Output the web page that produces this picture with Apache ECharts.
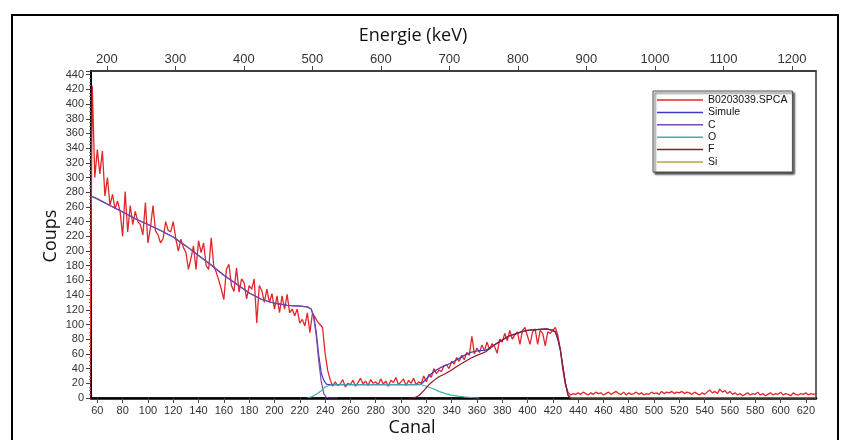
<!DOCTYPE html>
<html>
<head>
<meta charset="utf-8">
<script src="https://cdn.jsdelivr.net/npm/echarts@6/dist/echarts.min.js"></script>
<style>
html,body{margin:0;padding:0;background:#fff;}
#c{width:841px;height:440px;}
</style>
</head>
<body>
<div id="c"></div>
<script>
// ---- Data ----
const seriesNames = ['B0203039.SPCA', 'Simule', 'C', 'O', 'F', 'Si'];
const canalTicks = [60,80,100,120,140,160,180,200,220,240,260,280,300,320,340,360,380,400,420,440,460,480,500,520,540,560,580,600,620];
const energieTicks = [200,300,400,500,600,700,800,900,1000,1100,1200];

// measured spectrum: channels 54, 56, 58 ... 628
const mesureCanalStart = 54;
const mesureCanalStep = 2;
const mesureCoups = [
  0,425,300,338,305,336,275,300,262,277,
  257,268,254,220,281,226,262,236,254,240,
  236,222,266,211,232,262,227,222,211,217,
  240,228,226,240,217,200,216,205,198,175,
  190,207,175,214,198,211,180,175,218,180,
  171,160,148,134,175,182,153,145,177,144,
  162,157,135,153,148,162,102,153,146,130,
  148,130,142,121,139,116,139,121,141,116,
  121,112,121,102,107,98,116,89,115,110,
  104,100,96,61,38,25,16,22,17,19,
  25,15,20,18,24,16,21,27,19,23,
  17,25,20,22,18,26,19,23,16,24,
  21,28,18,22,26,17,24,20,27,18,
  22,20,30,22,32,28,40,33,38,36,
  44,45,40,50,46,55,50,58,52,62,
  58,84,60,68,62,72,64,76,66,74,
  70,61,80,76,88,78,92,80,86,90,
  73,92,96,84,73,90,94,73,92,88,
  71,90,88,92,96,85,65,38,18,8,
  4,6,5,7,5,8,6,4,7,5,
  8,6,7,4,6,8,5,7,9,6,
  5,8,4,7,5,6,8,5,7,4,
  6,5,8,6,7,5,9,6,8,7,
  9,6,8,7,9,6,8,7,5,8,
  6,4,7,5,8,11,7,9,6,12,
  8,10,6,9,5,7,4,6,3,5,
  7,4,6,5,8,4,6,3,5,7,
  4,6,5,8,4,6,5,3,7,5,
  4,6,5,7,4,6,5,6
];

// simulated curves [canal, coups]
const simule = [[55,275],[60,271],[70,262],[80,253],[90,244],[100,236],[110,228],[120,219],[130,207],[140,194],[150,181],[160,167],[170,155],[180,143],[190,134],[200,129],[210,126],[220,125],[226,124],[229,121],[231,112],[233,90],[235,58],[237,34],[239,24],[241,19],[244,18],[312,18],[316,19],[320,26],[324,33],[328,38],[332,42],[336,45],[340,48],[345,53],[350,58],[355,62],[360,64],[367,65],[372,70],[378,77],[385,84],[390,87],[395,90],[400,92],[407,93],[415,94],[420,92],[422,90],[424,80],[426,65],[428,42],[430,20],[432,4],[434,0],[628,0]];
const courbeC = [[55,275],[60,271],[70,262],[80,253],[90,244],[100,236],[110,228],[120,219],[130,207],[140,194],[150,181],[160,167],[170,155],[180,143],[190,134],[200,129],[210,126],[220,125],[226,124],[229,121],[231,110],[233,85],[235,50],[237,22],[239,6],[241,1],[243,0],[250,0]];
const courbeO = [[226,0],[230,2],[234,6],[237,10],[240,15],[243,17],[248,18],[316,18],[320,16],[325,13],[330,9],[335,6],[340,4],[345,2.5],[350,1.5],[356,0.5],[362,0]];
const courbeF = [[306,0],[310,0],[314,3],[318,10],[322,18],[326,24],[330,29],[335,33],[340,38],[345,44],[350,49],[355,54],[360,58],[367,63],[372,70],[378,77],[385,84],[390,87],[395,90],[400,92],[407,93],[415,94],[420,92],[422,90],[424,80],[426,65],[428,42],[430,20],[432,4],[434,0],[440,0]];
const courbeSi = [[434,0],[628,0]];

// ---- Build ----
const mesure = mesureCoups.map((v, i) => [mesureCanalStart + i * mesureCanalStep, v]);
const colors = ['#e3262b', '#3c3cc4', '#7d4aa6', '#3fb0ac', '#8a1c2c', '#b8a640'];
const datasets = [mesure, simule, courbeC, courbeO, courbeF, courbeSi];

const chart = echarts.init(document.getElementById('c'), null, {renderer: 'canvas'});
const labelFont = '"Liberation Sans", Arial, sans-serif';
const titleFont = '"Open Sans", "DejaVu Sans", sans-serif';
const plain = v => String(v);

chart.setOption({
  animation: false,
  backgroundColor: '#fff',
  grid: {left: 91, right: 25, top: 71, bottom: 42, show: true, borderColor: '#333', borderWidth: 1.5, backgroundColor: '#fff'},
  legend: {
    data: seriesNames,
    orient: 'vertical',
    left: 653, top: 91,
    icon: 'rect',
    itemWidth: 46, itemHeight: 1.5,
    itemGap: 0.4,
    itemStyle: {borderWidth: 0},
    padding: [3, 5, 4, 4],
    backgroundColor: '#fff',
    borderColor: '#555', borderWidth: 1,
    shadowColor: 'rgba(0,0,0,0.75)', shadowBlur: 2, shadowOffsetX: 2, shadowOffsetY: 2,
    textStyle: {fontFamily: labelFont, fontSize: 10.5, color: '#111', lineHeight: 12},
    selectedMode: false
  },
  xAxis: [
    {
      type: 'value', position: 'bottom', min: 55, max: 628,
      axisLine: {show: true, onZero: false, lineStyle: {color: '#000', width: 2.5}},
      axisTick: {show: true, customValues: canalTicks, length: 5, lineStyle: {color: '#444'}},
      axisLabel: {customValues: canalTicks, formatter: plain, fontFamily: labelFont, fontSize: 11, color: '#333', margin: 7},
      splitLine: {show: false}
    },
    {
      type: 'value', position: 'top', min: 177, max: 1235,
      axisLine: {show: true, onZero: false, lineStyle: {color: '#333', width: 1.5}},
      axisTick: {show: true, customValues: energieTicks, length: 5, lineStyle: {color: '#444'}},
      axisLabel: {customValues: energieTicks, formatter: plain, fontFamily: labelFont, fontSize: 13, color: '#333', margin: 5},
      splitLine: {show: false}
    }
  ],
  yAxis: {
    type: 'value', min: 0, max: 445, interval: 20,
    axisLine: {show: true, onZero: false, lineStyle: {color: '#000', width: 2}},
    axisTick: {show: true, length: 5, lineStyle: {color: '#444'}},
    minorTick: {show: true, splitNumber: 4, length: 2, lineStyle: {color: '#888'}},
    axisLabel: {formatter: plain, fontFamily: labelFont, fontSize: 11, color: '#333', margin: 7, showMaxLabel: false},
    splitLine: {show: false}
  },
  series: seriesNames.map((name, i) => ({
    name: name,
    type: 'line',
    xAxisIndex: 0,
    data: datasets[i],
    showSymbol: false,
    symbol: 'none',
    color: colors[i],
    lineStyle: {color: colors[i], width: i === 0 ? 1.3 : 1.2},
    z: 2 + i
  })),
  graphic: [
    {type: 'rect', shape: {x: 12, y: 15, width: 826, height: 440}, style: {fill: 'none', stroke: '#000', lineWidth: 2}, silent: true},
    {type: 'text', x: 413, y: 36, style: {text: 'Energie (keV)', font: '18px ' + titleFont, fill: '#111', align: 'center', verticalAlign: 'middle'}},
    {type: 'text', x: 412, y: 428, style: {text: 'Canal', font: '18px ' + titleFont, fill: '#111', align: 'center', verticalAlign: 'middle'}},
    {type: 'text', x: 51, y: 236, rotation: Math.PI / 2, style: {text: 'Coups', font: '18px ' + titleFont, fill: '#111', align: 'center', verticalAlign: 'middle'}}
  ]
});
</script>
</body>
</html>
